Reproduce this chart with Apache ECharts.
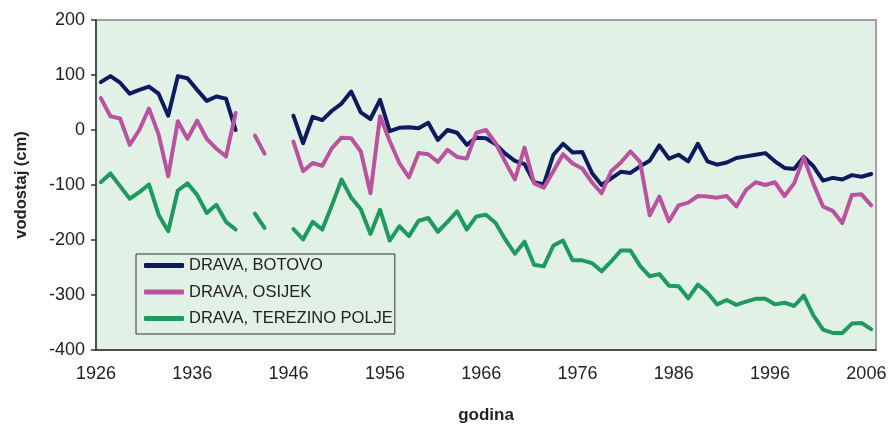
<!DOCTYPE html>
<html><head><meta charset="utf-8">
<script src="https://cdn.jsdelivr.net/npm/echarts@6/dist/echarts.min.js"></script>
<style>html,body{margin:0;padding:0;background:#fff}#c{width:896px;height:425px}</style>
</head><body><div id="c"></div>
<script>
const years = ['1926','1927','1928','1929','1930','1931','1932','1933','1934','1935',
'1936','1937','1938','1939','1940','1941','1942','1943','1944','1945',
'1946','1947','1948','1949','1950','1951','1952','1953','1954','1955',
'1956','1957','1958','1959','1960','1961','1962','1963','1964','1965',
'1966','1967','1968','1969','1970','1971','1972','1973','1974','1975',
'1976','1977','1978','1979','1980','1981','1982','1983','1984','1985',
'1986','1987','1988','1989','1990','1991','1992','1993','1994','1995',
'1996','1997','1998','1999','2000','2001','2002','2003','2004','2005','2006'];

const botovo = [87,98,86,66,73,79,66,26,98,94,
73,53,61,57,0,null,null,null,null,null,
26,-24,24,18,35,48,70,32,20,55,
-2,4,5,3,13,-18,0,-5,-27,-14,
-15,-26,-43,-56,-62,-95,-99,-45,-25,-41,
-40,-78,-100,-88,-76,-78,-66,-56,-28,-52,
-45,-57,-25,-57,-63,-59,-51,-48,-45,-42,
-57,-69,-71,-49,-66,-92,-87,-90,-82,-85,-80];

const osijek = [58,25,21,-27,0,39,-8,-84,16,-16,
17,-16,-34,-48,31,null,-10,-43,null,null,
-21,-75,-60,-65,-33,-14,-15,-39,-115,25,
-20,-60,-86,-42,-44,-58,-36,-49,-52,-5,
0,-24,-58,-90,-32,-97,-105,-75,-44,-61,
-70,-95,-115,-75,-59,-39,-58,-155,-121,-166,
-137,-132,-120,-121,-123,-120,-139,-109,-95,-100,
-95,-120,-97,-50,-98,-139,-147,-169,-118,-117,-137];

const terezino = [-95,-79,-102,-125,-113,-99,-154,-184,-110,-97,
-118,-151,-136,-167,-181,null,-152,-178,null,null,
-180,-199,-167,-181,-137,-90,-123,-144,-189,-145,
-201,-175,-193,-165,-160,-185,-167,-148,-181,-157,
-154,-169,-199,-225,-203,-245,-248,-210,-201,-237,
-237,-242,-257,-239,-219,-219,-247,-266,-262,-283,
-284,-306,-281,-296,-317,-309,-318,-312,-307,-307,
-317,-314,-320,-301,-337,-363,-369,-369,-352,-351,-362];

const seriesNames = ['DRAVA, BOTOVO','DRAVA, OSIJEK','DRAVA, TEREZINO POLJE'];
const seriesColors = ['#0E1A5E','#B9529F','#1E9A5E'];
const seriesData = [botovo, osijek, terezino];

const FONT = "'Liberation Sans', Arial, sans-serif";
const chart = echarts.init(document.getElementById('c'), null, {renderer:'canvas'});
chart.setOption({
  animation: false,
  backgroundColor: '#ffffff',
  textStyle: {fontFamily: FONT},
  grid: {left:96, right:20, top:20, bottom:75, show:true, containLabel:false,
    outerBoundsMode:'none',
    backgroundColor:'#E2F1E6', borderColor:'#A0A0A0', borderWidth:2},
  legend: {
    orient:'vertical', left:136, top:254,
    icon:'roundRect',
    itemWidth:40, itemHeight:5, itemGap:9.5,
    borderColor:'#333', borderWidth:1,
    padding:[3,2,7,8],
    data: seriesNames,
    textStyle:{fontSize:16.5, color:'#222', fontFamily:FONT}
  },
  xAxis: {
    type:'category', data: years, boundaryGap:true,
    axisLine:{onZero:false, lineStyle:{color:'#333', width:1.5}},
    axisTick:{interval:9, length:5, lineStyle:{color:'#333', width:1.5}},
    axisLabel:{interval:9, fontSize:18, color:'#222', margin:15, padding:[0,9.6,0,0], fontFamily:FONT},
    name:'godina', nameLocation:'middle', nameGap:57,
    nameTextStyle:{fontWeight:'bold', fontSize:17, color:'#222', fontFamily:FONT}
  },
  yAxis: {
    type:'value', min:-400, max:200, interval:100,
    splitLine:{show:false},
    axisLine:{show:true, lineStyle:{color:'#333', width:1.5}},
    axisTick:{show:true, length:5, lineStyle:{color:'#333', width:1.5}},
    axisLabel:{fontSize:18, color:'#222', margin:11, fontFamily:FONT},
    name:'vodostaj (cm)', nameLocation:'middle', nameGap:66, nameRotate:90,
    nameTextStyle:{fontWeight:'bold', fontSize:16.5, color:'#222', fontFamily:FONT}
  },
  series: seriesNames.map((n,i)=>({
    name:n, type:'line', data:seriesData[i], symbol:'none', connectNulls:false,
    lineStyle:{width:4, color:seriesColors[i], cap:'round', join:'round'},
    itemStyle:{color:seriesColors[i]}
  }))
});
</script></body></html>
